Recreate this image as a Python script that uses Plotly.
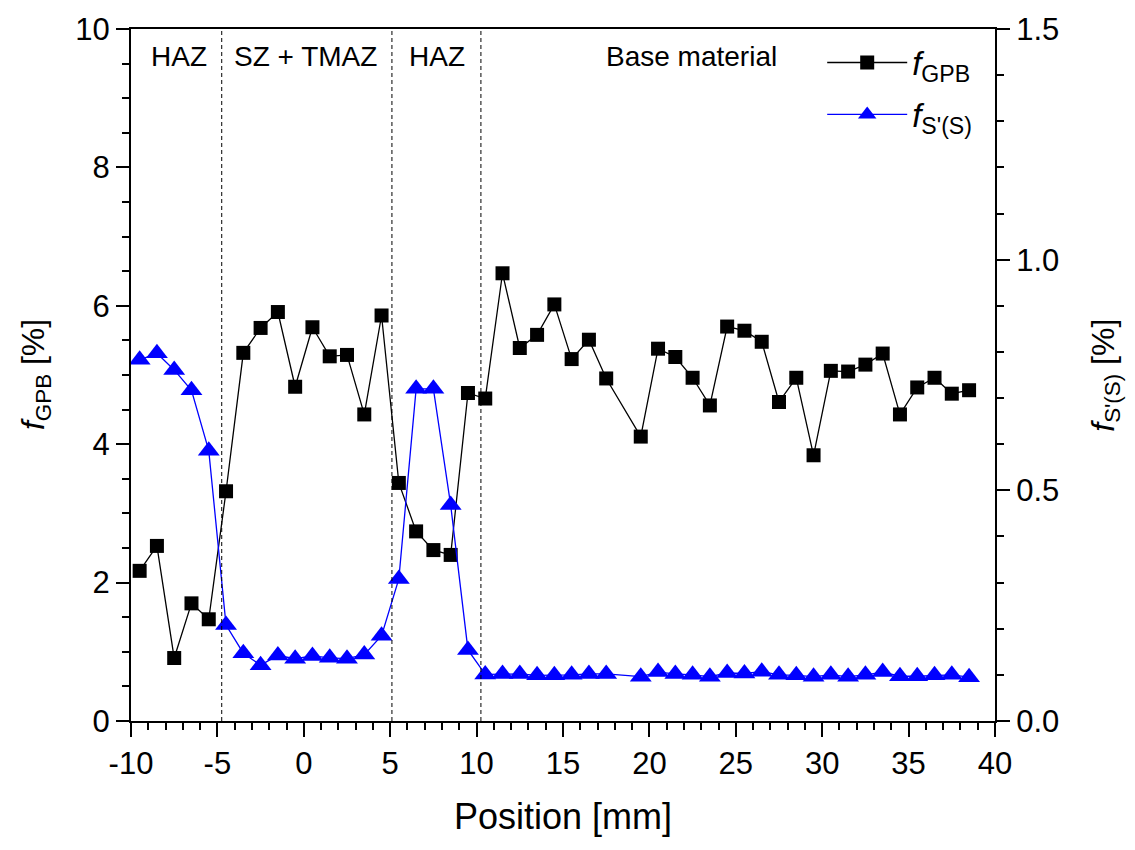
import plotly.graph_objects as go

# ---- data ----
position = [-9.5, -8.5, -7.5, -6.5, -5.5, -4.5, -3.5, -2.5, -1.5, -0.5,
            0.5, 1.5, 2.5, 3.5, 4.5, 5.5, 6.5, 7.5, 8.5, 9.5,
            10.5, 11.5, 12.5, 13.5, 14.5, 15.5, 16.5, 17.5,
            19.5, 20.5, 21.5, 22.5, 23.5, 24.5, 25.5, 26.5, 27.5, 28.5,
            29.5, 30.5, 31.5, 32.5, 33.5, 34.5, 35.5, 36.5, 37.5, 38.5]

f_gpb = [2.17, 2.53, 0.91, 1.70, 1.47, 3.32, 5.32, 5.68, 5.91, 4.83,
         5.69, 5.27, 5.29, 4.43, 5.86, 3.44, 2.74, 2.47, 2.40, 4.74,
         4.66, 6.47, 5.39, 5.58, 6.02, 5.23, 5.51, 4.95,
         4.11, 5.38, 5.26, 4.96, 4.56, 5.70, 5.64, 5.48, 4.61, 4.96,
         3.84, 5.06, 5.05, 5.15, 5.31, 4.43, 4.82, 4.96, 4.73, 4.78]

f_s = [0.783, 0.797, 0.761, 0.717, 0.586, 0.208, 0.147, 0.121, 0.142, 0.135,
       0.141, 0.137, 0.135, 0.144, 0.185, 0.308, 0.720, 0.720, 0.468, 0.154,
       0.101, 0.102, 0.102, 0.099, 0.099, 0.100, 0.102, 0.102,
       0.096, 0.106, 0.102, 0.100, 0.096, 0.104, 0.103, 0.107, 0.100, 0.099,
       0.096, 0.100, 0.096, 0.100, 0.106, 0.097, 0.097, 0.099, 0.100, 0.095]

x_tick_vals = [-10, -5, 0, 5, 10, 15, 20, 25, 30, 35, 40]
x_tick_text = ["-10", "-5", "0", "5", "10", "15", "20", "25", "30", "35", "40"]

zone_bounds = [-4.75, 5.1, 10.25]
zone_labels = ["HAZ", "SZ + TMAZ", "HAZ", "Base material"]
zone_label_x = [-7.22, 0.08, 7.70, 22.44]

FONT = "Liberation Sans, Arial, sans-serif"

fig = go.Figure()
fig.add_trace(go.Scatter(
    x=position, y=f_gpb, mode="lines+markers",
    name="<i>f</i><sub>GPB</sub>",
    line=dict(color="black", width=1.3),
    marker=dict(symbol="square", size=14, color="black"),
    legendgroup="a",
))
fig.add_trace(go.Scatter(
    x=position, y=f_s, mode="lines+markers", yaxis="y2",
    name="<i>f</i><sub>S'(S)</sub>",
    line=dict(color="#0000FF", width=1.3),
    marker=dict(symbol="triangle-up", size=19, color="#0000FF"),
    legendgroup="b",
))

shapes = []
for xb in zone_bounds:
    shapes.append(dict(type="line", xref="x", yref="paper", x0=xb, x1=xb,
                       y0=0, y1=1, line=dict(color="black", width=1, dash="4px,3px")))

annotations = []
for lab, lx in zip(zone_labels, zone_label_x):
    annotations.append(dict(x=lx, y=0.96, xref="x", yref="paper", text=lab,
                            showarrow=False, font=dict(family=FONT, size=28, color="black"),
                            xanchor="center", yanchor="middle"))
annotations.append(dict(x=0.5, y=-0.138, xref="paper", yref="paper", text="Position [mm]",
                        showarrow=False, font=dict(family=FONT, size=36, color="black"),
                        xanchor="center", yanchor="middle"))
annotations.append(dict(x=-0.111, y=0.5, xref="paper", yref="paper",
                        text="<i>f</i><sub>GPB</sub> [%]", textangle=-90,
                        showarrow=False, font=dict(family=FONT, size=32, color="black"),
                        xanchor="center", yanchor="middle"))
annotations.append(dict(x=1.127, y=0.5, xref="paper", yref="paper",
                        text="<i>f</i><sub>S'(S)</sub> [%]", textangle=-90,
                        showarrow=False, font=dict(family=FONT, size=32, color="black"),
                        xanchor="center", yanchor="middle"))

axis_common = dict(showline=True, linecolor="black", linewidth=2, showgrid=False,
                   zeroline=False, ticks="outside", tickcolor="black", tickwidth=2,
                   tickfont=dict(family=FONT, size=31, color="black"))

fig.update_layout(
    width=1135, height=850,
    margin=dict(l=131, r=140, t=25, b=129, pad=0),
    paper_bgcolor="white", plot_bgcolor="white",
    shapes=shapes, annotations=annotations,
    xaxis=dict(range=[-10, 40], tickmode="array", tickvals=x_tick_vals, ticktext=x_tick_text,
               ticklen=14, mirror=True,
               minor=dict(dtick=1, tick0=0, ticks="outside", ticklen=7, tickwidth=2, tickcolor="black"),
               **axis_common),
    yaxis=dict(range=[0, 10], dtick=2, tick0=0, ticklen=13,
               minor=dict(dtick=0.5, ticks="outside", ticklen=7, tickwidth=2, tickcolor="black"),
               **axis_common),
    yaxis2=dict(range=[0, 1.5], dtick=0.5, tick0=0, tickformat=".1f", ticklen=13,
                overlaying="y", side="right",
                minor=dict(dtick=0.1, ticks="outside", ticklen=7, tickwidth=2, tickcolor="black"),
                **axis_common),
    legend=dict(x=0.80, xanchor="left", y=0.992, yanchor="top",
                bgcolor="rgba(0,0,0,0)", itemwidth=80,
                font=dict(family=FONT, size=33, color="black"),
                tracegroupgap=6),
    showlegend=True,
)

fig.write_html("out.html")
